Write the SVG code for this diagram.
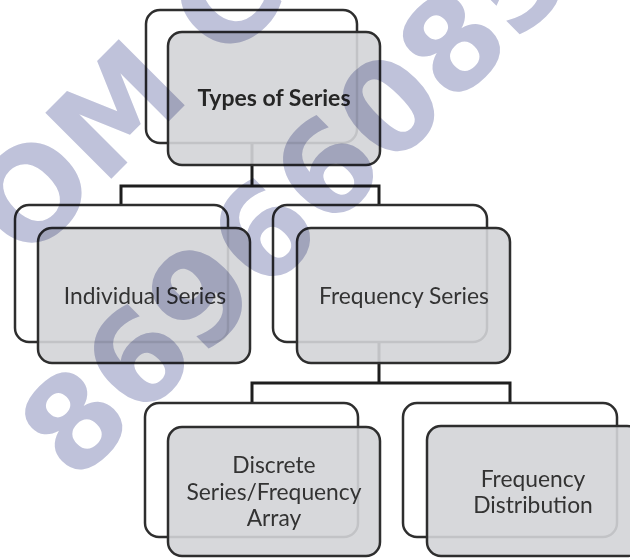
<svg xmlns="http://www.w3.org/2000/svg" width="630" height="559" viewBox="0 0 630 559">
<style>
.back{fill:#ffffff;stroke:#2e2e2e;stroke-width:2.5}
.front{fill:#d3d4d7;fill-opacity:0.9;stroke:#2e2e2e;stroke-width:2.5}
.lbl{font-family:Lato,"Open Sans","Liberation Sans",sans-serif;font-size:22.8px;fill:#333333;text-anchor:middle}
.bold{font-weight:bold;font-size:23px;fill:#262626}
.conn{fill:none;stroke:#1e1e1e;stroke-width:3}
.wm{font-family:"DejaVu Sans",sans-serif;font-weight:bold;font-size:128px;fill:#bfc2da;mix-blend-mode:multiply}
</style>
<rect x="0" y="0" width="630" height="559" fill="#ffffff"/>
<g id="connectors">
<path class="conn" d="M121,205 V186 H379 V205 M252,143 V186"/>
<path class="conn" d="M252,403 V383 H510 V403 M379,342 V383"/>
</g>
<g id="types-of-series">
<rect class="back" x="146" y="10" width="211" height="133" rx="14"/>
<rect class="front" x="168" y="32" width="212" height="133" rx="14"/>
<text class="lbl bold" x="274" y="106">Types of Series</text>
</g>
<g id="individual-series">
<rect class="back" x="15" y="205" width="213" height="137" rx="14"/>
<rect class="front" x="38" y="228" width="212" height="135" rx="14"/>
<text class="lbl" x="145" y="304">Individual Series</text>
</g>
<g id="frequency-series">
<rect class="back" x="273" y="205" width="214" height="137" rx="14"/>
<rect class="front" x="297" y="228" width="213" height="135" rx="14"/>
<text class="lbl" x="404" y="304">Frequency Series</text>
</g>
<g id="discrete-series">
<rect class="back" x="145" y="403" width="213" height="134" rx="14"/>
<rect class="front" x="168" y="427" width="212" height="129" rx="14"/>
<text class="lbl" x="274" y="473">Discrete</text>
<text class="lbl" x="274" y="500">Series/Frequency</text>
<text class="lbl" x="274" y="526">Array</text>
</g>
<g id="frequency-distribution">
<rect class="back" x="403" y="403" width="214" height="134" rx="14"/>
<rect class="front" x="427" y="426" width="214" height="130" rx="14"/>
<text class="lbl" x="533" y="487">Frequency</text>
<text class="lbl" x="533" y="513">Distribution</text>
</g>
<g id="watermark">
<text class="wm" transform="translate(26,264) rotate(-45)">OM C</text>
<text class="wm" transform="translate(75,485) rotate(-45)">86966085</text>
</g>
</svg>
